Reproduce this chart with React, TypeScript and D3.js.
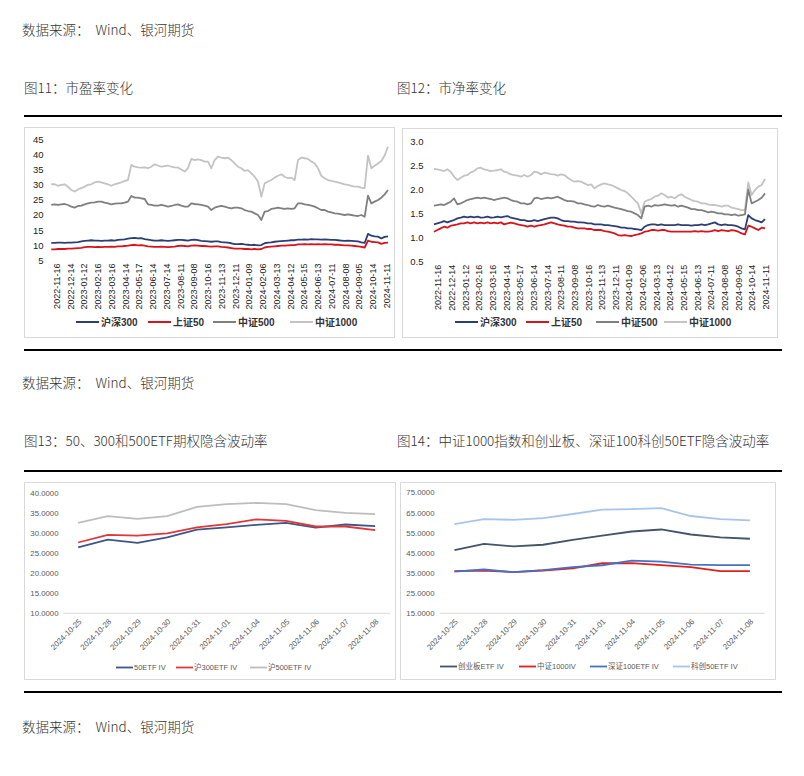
import * as d3 from "d3";

const W = 804;
const H = 776;

const CJK = "'Noto Sans CJK SC', 'Noto Sans', sans-serif";
const SANS = "'Liberation Sans', Arial, 'Noto Sans CJK SC', sans-serif";

// x-axis labels of the two daily charts (every 20 trading days)
const dayLabels = [
  "2022-11-16", "2022-12-14", "2023-01-12", "2023-02-16", "2023-03-16",
  "2023-04-14", "2023-05-17", "2023-06-14", "2023-07-14", "2023-08-11",
  "2023-09-08", "2023-10-16", "2023-11-13", "2023-12-11", "2024-01-09",
  "2024-02-06", "2024-03-13", "2024-04-12", "2024-05-15", "2024-06-13",
  "2024-07-11", "2024-08-08", "2024-09-05", "2024-10-14", "2024-11-11",
];

// 图11 市盈率 (weekly readings)
const pe300 = [
  10.8, 10.8, 10.9, 10.9, 10.8, 10.9, 10.9, 11.0, 11.1, 11.3,
  11.5, 11.6, 11.7, 11.6, 11.6, 11.5, 11.6, 11.6, 11.7, 11.6,
  11.8, 11.9, 12.0, 12.2, 12.4, 12.5, 12.3, 12.4, 12.1, 11.9,
  11.7, 11.6, 11.6, 11.7, 11.6, 11.5, 11.6, 11.7, 11.8, 11.8,
  11.7, 11.6, 11.8, 11.9, 11.7, 11.5, 11.4, 11.3, 11.2, 11.3,
  11.3, 11.1, 11.0, 10.9, 10.7, 10.4, 10.4, 10.5, 10.3, 10.2,
  10.1, 10.2, 10.0, 10.1, 10.7, 10.9, 11.0, 11.2, 11.3, 11.4,
  11.5, 11.6, 11.7, 11.7, 11.9, 11.9, 12.0, 11.9, 12.1, 12.0,
  12.0, 11.9, 12.0, 11.9, 11.8, 11.8, 11.7, 11.6, 11.5, 11.6,
  11.5, 11.4, 11.3, 11.0, 10.8, 13.8, 13.2, 13.0, 12.9, 12.3,
  12.8, 13.0,
];
const pe50 = [
  8.7, 8.7, 8.8, 8.8, 8.8, 8.9, 8.9, 9.0, 9.1, 9.2,
  9.4, 9.5, 9.5, 9.4, 9.5, 9.4, 9.5, 9.5, 9.6, 9.5,
  9.7, 9.7, 9.8, 9.9, 10.1, 10.2, 10.0, 10.1, 9.9, 9.7,
  9.6, 9.5, 9.5, 9.6, 9.5, 9.4, 9.5, 9.6, 9.8, 9.9,
  9.8, 9.7, 9.9, 10.0, 9.9, 9.8, 9.8, 9.7, 9.6, 9.7,
  9.7, 9.5, 9.4, 9.3, 9.1, 8.9, 8.9, 8.9, 8.8, 8.8,
  8.7, 8.8, 8.7, 8.8, 9.3, 9.5, 9.6, 9.7, 9.8, 9.9,
  9.9, 10.0, 10.1, 10.1, 10.3, 10.3, 10.4, 10.3, 10.4, 10.3,
  10.4, 10.3, 10.4, 10.3, 10.3, 10.2, 10.2, 10.1, 10.0, 10.0,
  9.9, 9.8, 9.7, 9.5, 9.3, 11.6, 11.2, 11.1, 11.0, 10.5,
  10.8, 10.9,
];
const pe500 = [
  23.35, 23.57, 23.35, 23.57, 23.68, 23.35, 22.8, 22.47, 23.02, 23.13,
  23.57, 23.9, 24.12, 24.23, 24.45, 24.45, 24.12, 23.9, 23.57, 23.79,
  23.9, 23.9, 24.12, 24.45, 26.32, 25.77, 25.77, 25.55, 25.33, 23.57,
  23.35, 23.13, 23.13, 23.35, 23.13, 22.8, 23.02, 23.35, 23.57, 23.13,
  22.8, 22.8, 23.9, 23.68, 23.57, 23.35, 23.13, 22.8, 21.69, 22.47,
  22.8, 23.02, 22.8, 22.47, 22.25, 22.47, 22.47, 22.25, 21.69, 21.36,
  21.14, 20.59, 20.04, 18.38, 21.14, 21.36, 22.03, 22.25, 22.47, 22.25,
  22.03, 22.25, 22.03, 22.25, 23.9, 23.9, 23.57, 23.35, 23.13, 22.8,
  22.25, 21.69, 21.69, 21.14, 20.92, 20.59, 20.48, 20.26, 20.04, 20.26,
  20.04, 19.82, 19.71, 20.04, 19.48, 26.43, 23.9, 24.45, 25.0, 25.77,
  26.87, 28.31,
];
const pe1000 = [
  30.2, 30.2, 29.7, 30.0, 30.2, 29.4, 28.3, 27.8, 28.5, 28.9,
  29.4, 30.0, 30.2, 30.8, 31.1, 30.8, 30.5, 30.2, 29.7, 30.2,
  30.5, 30.8, 31.3, 31.6, 36.6, 36.0, 35.8, 35.7, 35.8, 35.5,
  36.0, 36.8, 36.4, 36.0, 36.2, 36.4, 36.0, 35.8, 35.7, 35.1,
  34.4, 35.5, 38.6, 38.2, 38.4, 38.2, 37.7, 37.7, 35.5, 38.2,
  39.3, 39.0, 38.8, 39.0, 38.2, 37.1, 36.0, 35.5, 34.6, 34.9,
  33.8, 32.7, 31.1, 26.1, 30.5, 31.1, 31.6, 32.4, 33.0, 33.5,
  32.7, 32.2, 32.4, 31.6, 38.2, 39.0, 38.8, 38.6, 37.7, 37.1,
  35.5, 33.0, 32.2, 31.6, 31.3, 31.1, 30.8, 30.5, 30.2, 30.0,
  29.7, 29.4, 29.4, 29.1, 28.9, 39.7, 35.5, 36.3, 37.1, 37.9,
  39.7, 42.6,
];

// 图12 市净率 (weekly readings)
const pb300 = [
  1.278, 1.299, 1.319, 1.347, 1.319, 1.347, 1.368, 1.403, 1.417, 1.438,
  1.424, 1.438, 1.424, 1.438, 1.417, 1.424, 1.438, 1.417, 1.424, 1.438,
  1.424, 1.438, 1.451, 1.417, 1.403, 1.389, 1.368, 1.368, 1.347, 1.347,
  1.368, 1.347, 1.368, 1.389, 1.403, 1.417, 1.417, 1.403, 1.368, 1.347,
  1.347, 1.333, 1.333, 1.319, 1.319, 1.313, 1.299, 1.299, 1.278, 1.278,
  1.278, 1.264, 1.264, 1.25, 1.243, 1.229, 1.208, 1.208, 1.194, 1.194,
  1.181, 1.174, 1.16, 1.229, 1.264, 1.278, 1.278, 1.264, 1.278, 1.264,
  1.264, 1.264, 1.264, 1.278, 1.264, 1.264, 1.264, 1.25, 1.264, 1.264,
  1.278, 1.264, 1.278, 1.299, 1.319, 1.278, 1.264, 1.278, 1.264, 1.264,
  1.25, 1.229, 1.194, 1.174, 1.472, 1.403, 1.368, 1.347, 1.319, 1.389,
];
const pb50 = [
  1.125, 1.16, 1.194, 1.229, 1.208, 1.25, 1.264, 1.278, 1.299, 1.299,
  1.319, 1.299, 1.319, 1.299, 1.313, 1.299, 1.319, 1.299, 1.313, 1.299,
  1.319, 1.278, 1.299, 1.313, 1.299, 1.278, 1.264, 1.25, 1.229, 1.25,
  1.229, 1.25, 1.264, 1.278, 1.299, 1.319, 1.299, 1.278, 1.264, 1.25,
  1.229, 1.229, 1.208, 1.194, 1.194, 1.194, 1.181, 1.181, 1.16, 1.16,
  1.16, 1.139, 1.125, 1.111, 1.09, 1.056, 1.042, 1.056, 1.042, 1.035,
  1.056, 1.069, 1.09, 1.125, 1.139, 1.16, 1.16, 1.146, 1.16, 1.16,
  1.139, 1.125, 1.125, 1.125, 1.125, 1.125, 1.125, 1.125, 1.139, 1.125,
  1.139, 1.125, 1.125, 1.139, 1.16, 1.139, 1.16, 1.146, 1.139, 1.16,
  1.146, 1.125, 1.09, 1.069, 1.25, 1.229, 1.194, 1.16, 1.208, 1.194,
];
const pb500 = [
  1.667, 1.681, 1.694, 1.681, 1.715, 1.75, 1.819, 1.694, 1.715, 1.75,
  1.785, 1.806, 1.819, 1.833, 1.819, 1.833, 1.819, 1.806, 1.785, 1.806,
  1.819, 1.833, 1.819, 1.785, 1.764, 1.75, 1.715, 1.715, 1.694, 1.715,
  1.819, 1.833, 1.806, 1.819, 1.833, 1.819, 1.833, 1.854, 1.819, 1.785,
  1.764, 1.764, 1.75, 1.715, 1.715, 1.694, 1.681, 1.66, 1.646, 1.681,
  1.66, 1.646, 1.667, 1.646, 1.625, 1.611, 1.597, 1.576, 1.556, 1.542,
  1.507, 1.472, 1.403, 1.646, 1.667, 1.646, 1.681, 1.667, 1.681, 1.694,
  1.681, 1.667, 1.681, 1.646, 1.667, 1.646, 1.625, 1.597, 1.597, 1.576,
  1.576, 1.556, 1.528, 1.542, 1.528, 1.507, 1.507, 1.486, 1.486, 1.472,
  1.486, 1.458, 1.472, 1.486, 2.007, 1.715, 1.75, 1.785, 1.833, 1.924,
];
const pb1000 = [
  2.431, 2.424, 2.41, 2.389, 2.424, 2.375, 2.271, 2.201, 2.25, 2.292,
  2.306, 2.361, 2.389, 2.444, 2.458, 2.424, 2.41, 2.389, 2.396, 2.41,
  2.424, 2.375, 2.354, 2.319, 2.306, 2.292, 2.271, 2.306, 2.271, 2.306,
  2.375, 2.361, 2.319, 2.354, 2.34, 2.326, 2.319, 2.292, 2.319, 2.306,
  2.25, 2.201, 2.167, 2.181, 2.167, 2.132, 2.097, 2.111, 2.028, 2.076,
  2.111, 2.132, 2.111, 2.097, 2.063, 2.028, 1.993, 1.972, 1.924, 1.854,
  1.785, 1.715, 1.507, 1.75, 1.785, 1.806, 1.854, 1.875, 1.924, 1.889,
  1.833, 1.854, 1.819, 1.875, 1.903, 1.854, 1.819, 1.785, 1.764, 1.75,
  1.715, 1.715, 1.694, 1.681, 1.681, 1.667, 1.646, 1.667, 1.667, 1.625,
  1.611, 1.597, 1.576, 1.576, 2.153, 1.889, 1.993, 2.063, 2.097, 2.222,
];

// 图13 / 图14 implied volatility
const ivDates = [
  "2024-10-25", "2024-10-28", "2024-10-29", "2024-10-30", "2024-10-31",
  "2024-11-01", "2024-11-04", "2024-11-05", "2024-11-06", "2024-11-07", "2024-11-08",
];
const iv50 = [26.5, 28.4, 27.6, 29.0, 30.9, 31.5, 32.1, 32.6, 31.4, 32.2, 31.8];
const iv300 = [27.7, 29.6, 29.4, 30.0, 31.5, 32.3, 33.5, 33.1, 31.7, 31.7, 30.8];
const iv500 = [32.6, 34.3, 33.6, 34.3, 36.6, 37.3, 37.6, 37.3, 35.8, 35.1, 34.8];

const ivCyb = [46.4, 49.5, 48.3, 49.1, 51.5, 53.6, 55.7, 56.7, 54.2, 52.8, 52.1];
const iv1000 = [36.0, 36.3, 35.5, 36.3, 37.4, 39.9, 40.0, 39.0, 38.0, 36.0, 36.0];
const ivSz100 = [35.7, 36.8, 35.5, 36.5, 38.0, 38.9, 41.2, 40.7, 39.2, 39.0, 39.0];
const ivKc50 = [59.4, 61.9, 61.5, 62.4, 64.4, 66.6, 66.8, 67.3, 63.4, 61.9, 61.2];

type Series = { name: string; values: number[]; color: string; lx: number };

type DailyProps = {
  box: [number, number, number, number];
  plot: { x0: number; x1: number; y0: number; y1: number };
  labelRange: [number, number];
  yDomain: [number, number];
  yTicks: number[];
  yFmt: (v: number) => string;
  tickX: number;
  legendY: number;
  series: Series[];
};

function DailyChart(p: DailyProps) {
  const n = p.series[0].values.length;
  const x = d3.scaleLinear().domain([0, n - 1]).range([p.plot.x0, p.plot.x1]);
  const y = d3.scaleLinear().domain(p.yDomain).range([p.plot.y1, p.plot.y0]);
  const lab = d3.scalePoint<string>().domain(dayLabels).range(p.labelRange);
  const line = d3
    .line<number>()
    .x((_, i) => x(i))
    .y((d) => y(d));
  const [bx, by, bw, bh] = p.box;

  return (
    <g>
      <rect x={bx} y={by} width={bw} height={bh} fill="#fff" stroke="#d9d9d9" />
      {p.yTicks.map((t) => (
        <text key={t} x={p.tickX} y={y(t)} dy="0.35em" textAnchor="end"
          fontFamily={SANS} fontSize={9.5} fill="#222">
          {p.yFmt(t)}
        </text>
      ))}
      {dayLabels.map((d) => (
        <text key={d} transform={`translate(${lab(d)},${p.plot.y1 + 3}) rotate(-90)`}
          dy="0.35em" textAnchor="end" fontFamily={SANS} fontSize={9} fill="#222">
          {d}
        </text>
      ))}
      {[...p.series].reverse().map((s) => (
        <path key={s.name} d={line(s.values) ?? ""} fill="none" stroke={s.color}
          strokeWidth={1.8} strokeLinejoin="round" />
      ))}
      {p.series.map((s) => (
        <g key={s.name}>
          <line x1={s.lx} x2={s.lx + 23} y1={p.legendY} y2={p.legendY} stroke={s.color} strokeWidth={2} />
          <text x={s.lx + 25} y={p.legendY} dy="0.35em" fontFamily={SANS} fontSize={10}
            fontWeight="bold" fill="#333">
            {s.name}
          </text>
        </g>
      ))}
    </g>
  );
}

type IvProps = {
  box: [number, number, number, number];
  axis: { x0: number; x1: number; y0: number; y1: number };
  yDomain: [number, number];
  yTicks: number[];
  tickX: number;
  legendY: number;
  series: Series[];
};

function IvChart(p: IvProps) {
  const x = d3.scaleBand<string>().domain(ivDates).range([p.axis.x0, p.axis.x1]);
  const cx = (d: string) => (x(d) ?? 0) + x.bandwidth() / 2;
  const y = d3.scaleLinear().domain(p.yDomain).range([p.axis.y1, p.axis.y0]);
  const line = d3
    .line<number>()
    .x((_, i) => cx(ivDates[i]))
    .y((d) => y(d));
  const [bx, by, bw, bh] = p.box;
  const base = y(p.yDomain[0]);

  return (
    <g>
      <rect x={bx} y={by} width={bw} height={bh} fill="#fff" stroke="#d9d9d9" />
      <line x1={p.axis.x0} x2={p.axis.x1} y1={base} y2={base} stroke="#d9d9d9" />
      {p.yTicks.map((t) => (
        <text key={t} x={p.tickX} y={y(t)} dy="0.35em" textAnchor="end"
          fontFamily={SANS} fontSize={7.8} fill="#595959">
          {d3.format(".4f")(t)}
        </text>
      ))}
      {ivDates.map((d) => (
        <text key={d} transform={`translate(${cx(d) + 2},${base + 7}) rotate(-45)`}
          dy="0.35em" textAnchor="end" fontFamily={SANS} fontSize={7.8} fill="#595959">
          {d}
        </text>
      ))}
      {p.series.map((s) => (
        <path key={s.name} d={line(s.values) ?? ""} fill="none" stroke={s.color}
          strokeWidth={1.8} strokeLinejoin="round" />
      ))}
      {p.series.map((s) => (
        <g key={s.name}>
          <line x1={s.lx} x2={s.lx + 17} y1={p.legendY} y2={p.legendY} stroke={s.color} strokeWidth={1.8} />
          <text x={s.lx + 18} y={p.legendY} dy="0.35em" fontFamily={SANS} fontSize={7.5} fill="#595959">
            {s.name}
          </text>
        </g>
      ))}
    </g>
  );
}

function Caption({ x, y, text }: { x: number; y: number; text: string }) {
  return (
    <text x={x} y={y} dy="0.35em" fontFamily={CJK} fontSize={13.5} fontWeight={300}
      fill="#333" style={{ whiteSpace: "pre" }}>
      {text}
    </text>
  );
}

function Rule({ y }: { y: number }) {
  return <line x1={24} x2={782} y1={y} y2={y} stroke="#000" strokeWidth={2} />;
}

export default function App() {
  const source = "数据来源：  Wind、银河期货";
  return (
    <svg width={W} height={H} style={{ position: "absolute", left: 0, top: 0, background: "#fff" }}>
      <rect width={W} height={H} fill="#fff" />
      <Caption x={22} y={30} text={source} />
      <Caption x={24} y={88} text="图11：市盈率变化" />
      <Caption x={397} y={88} text="图12：市净率变化" />
      <Rule y={116} />

      <DailyChart
        box={[24.5, 127.5, 370, 210]}
        plot={{ x0: 51.3, x1: 388, y0: 139.5, y1: 260.5 }}
        labelRange={[56.7, 386.7]}
        yDomain={[5, 45]}
        yTicks={d3.range(5, 46, 5)}
        yFmt={d3.format("d")}
        tickX={43.5}
        legendY={322}
        series={[
          { name: "沪深300", values: pe300, color: "#2b3f73", lx: 76 },
          { name: "上证50", values: pe50, color: "#d7141c", lx: 148 },
          { name: "中证500", values: pe500, color: "#7f7f7f", lx: 213 },
          { name: "中证1000", values: pe1000, color: "#c3c3c3", lx: 290 },
        ]}
      />
      <DailyChart
        box={[402.5, 128.5, 375, 209]}
        plot={{ x0: 434, x1: 765, y0: 141.7, y1: 261.7 }}
        labelRange={[438.3, 765.7]}
        yDomain={[0.5, 3.0]}
        yTicks={d3.range(0.5, 3.01, 0.5)}
        yFmt={d3.format(".1f")}
        tickX={423.5}
        legendY={322}
        series={[
          { name: "沪深300", values: pb300, color: "#2b3f73", lx: 455 },
          { name: "上证50", values: pb50, color: "#d7141c", lx: 526 },
          { name: "中证500", values: pb500, color: "#7f7f7f", lx: 596 },
          { name: "中证1000", values: pb1000, color: "#c3c3c3", lx: 664 },
        ]}
      />
      <Rule y={350} />

      <Caption x={22} y={383} text={source} />
      <Caption x={24} y={441} text="图13：50、300和500ETF期权隐含波动率" />
      <Caption x={397} y={441} text="图14：中证1000指数和创业板、深证100科创50ETF隐含波动率" />
      <Rule y={471} />

      <IvChart
        box={[24.5, 482.5, 371, 197]}
        axis={{ x0: 63.3, x1: 390, y0: 493.3, y1: 613.3 }}
        yDomain={[10, 40]}
        yTicks={d3.range(10, 41, 5)}
        tickX={58.5}
        legendY={667.5}
        series={[
          { name: "50ETF IV", values: iv50, color: "#3e5689", lx: 116 },
          { name: "沪300ETF IV", values: iv300, color: "#e0373a", lx: 176 },
          { name: "沪500ETF IV", values: iv500, color: "#bdbdbd", lx: 250 },
        ]}
      />
      <IvChart
        box={[400.5, 482.5, 375, 197]}
        axis={{ x0: 439.7, x1: 764.7, y0: 492.7, y1: 613.3 }}
        yDomain={[15, 75]}
        yTicks={d3.range(15, 76, 10)}
        tickX={434.5}
        legendY={666.5}
        series={[
          { name: "创业板ETF IV", values: ivCyb, color: "#44546a", lx: 440 },
          { name: "中证1000IV", values: iv1000, color: "#e0201f", lx: 519 },
          { name: "深证100ETF IV", values: ivSz100, color: "#4472c4", lx: 590 },
          { name: "科创50ETF IV", values: ivKc50, color: "#a9c4eb", lx: 673 },
        ]}
      />
      <Rule y={692} />

      <Caption x={22} y={727} text={source} />
    </svg>
  );
}
